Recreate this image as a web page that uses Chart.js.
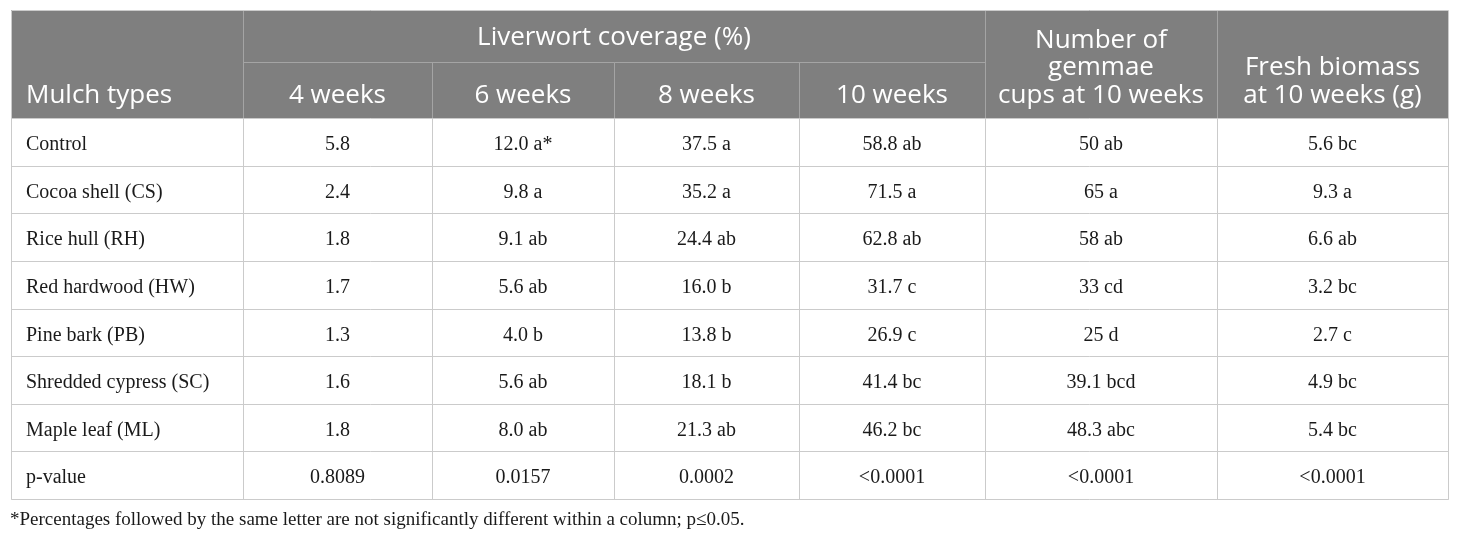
<!DOCTYPE html>
<html>
<head>
<meta charset="utf-8">
<script src="https://cdn.jsdelivr.net/npm/chart.js@4"></script>
<style>
html,body{margin:0;padding:0;background:#fff;}
#wrap{width:1460px;height:540px;position:relative;}
</style>
</head>
<body>
<div id="wrap"><canvas id="c" width="1460" height="540"></canvas></div>
<script>
// ---- data ----
const mulchTypes = ['Control','Cocoa shell (CS)','Rice hull (RH)','Red hardwood (HW)','Pine bark (PB)','Shredded cypress (SC)','Maple leaf (ML)'];
const cov4 = [5.8, 2.4, 1.8, 1.7, 1.3, 1.6, 1.8];
const cov6 = [12.0, 9.8, 9.1, 5.6, 4.0, 5.6, 8.0];
const cov6Letters = ['a*','a','ab','ab','b','ab','ab'];
const cov8 = [37.5, 35.2, 24.4, 16.0, 13.8, 18.1, 21.3];
const cov8Letters = ['a','a','ab','b','b','b','ab'];
const cov10 = [58.8, 71.5, 62.8, 31.7, 26.9, 41.4, 46.2];
const cov10Letters = ['ab','a','ab','c','c','bc','bc'];
const gemmaeCups = ['50','65','58','33','25','39.1','48.3'];
const gemmaeLetters = ['ab','a','ab','cd','d','bcd','abc'];
const biomass = [5.6, 9.3, 6.6, 3.2, 2.7, 4.9, 5.4];
const biomassLetters = ['bc','a','ab','bc','c','bc','bc'];
const pLabel = 'p-value';
const pValues = ['0.8089','0.0157','0.0002','<0.0001','<0.0001','<0.0001'];
const groupHeader = 'Liverwort coverage (%)';
const colHeaders = ['Mulch types','4 weeks','6 weeks','8 weeks','10 weeks'];
const cupsHeader = ['Number of','gemmae','cups at 10 weeks'];
const biomassHeader = ['Fresh biomass','at 10 weeks (g)'];
const footnote = '*Percentages followed by the same letter are not significantly different within a column; p\u22640.05.';

// ---- layout (not data) ----
const colWidths = [232, 189, 182, 185, 186, 232, 231];
const headH1 = 52, headH2 = 56, rowH = 47.6;

// build table rows
const rows = mulchTypes.map((m, i) => [
  m,
  cov4[i].toFixed(1),
  cov6[i].toFixed(1) + ' ' + cov6Letters[i],
  cov8[i].toFixed(1) + ' ' + cov8Letters[i],
  cov10[i].toFixed(1) + ' ' + cov10Letters[i],
  gemmaeCups[i] + ' ' + gemmaeLetters[i],
  biomass[i].toFixed(1) + ' ' + biomassLetters[i]
]);
rows.push([pLabel, ...pValues]);

const edges = [0];
colWidths.forEach(w => edges.push(edges[edges.length - 1] + w));
const tableW = edges[edges.length - 1];
const tableH = headH1 + headH2 + rowH * rows.length;

const tablePlugin = {
  id: 'tablePlugin',
  afterDraw(chart) {
    const ctx = chart.ctx;
    const xs = chart.scales.x, ys = chart.scales.y;
    const X = v => xs.getPixelForValue(v);
    const Y = v => ys.getPixelForValue(v);
    const cx = i => (X(edges[i]) + X(edges[i + 1])) / 2;
    ctx.save();
    // header background
    ctx.fillStyle = '#7f7f7f';
    ctx.fillRect(X(0), Y(0), X(tableW) - X(0), Y(headH1 + headH2) - Y(0));
    // header lines
    ctx.strokeStyle = '#a4a4a4';
    ctx.lineWidth = 1;
    const line = (x1, y1, x2, y2) => {
      ctx.beginPath();
      ctx.moveTo(Math.round(x1) + 0.5, Math.round(y1) + 0.5);
      ctx.lineTo(Math.round(x2) + 0.5, Math.round(y2) + 0.5);
      ctx.stroke();
    };
    line(X(edges[1]), Y(headH1), X(edges[5]), Y(headH1));
    [1, 5, 6].forEach(i => line(X(edges[i]), Y(0), X(edges[i]), Y(headH1 + headH2)));
    [2, 3, 4].forEach(i => line(X(edges[i]), Y(headH1), X(edges[i]), Y(headH1 + headH2)));
    // body lines
    ctx.strokeStyle = '#cbcbcb';
    const bodyTop = headH1 + headH2;
    for (let r = 0; r <= rows.length; r++) {
      line(X(0), Y(bodyTop + r * rowH), X(tableW), Y(bodyTop + r * rowH));
    }
    edges.forEach(e => line(X(e), Y(bodyTop), X(e), Y(tableH)));
    // outer border
    line(X(0), Y(0), X(tableW), Y(0));
    line(X(0), Y(0), X(0), Y(tableH));
    line(X(tableW), Y(0), X(tableW), Y(tableH));

    // header text
    ctx.fillStyle = '#ffffff';
    ctx.font = '26px "Open Sans"';
    ctx.textBaseline = 'middle';
    ctx.textAlign = 'center';
    ctx.fillText(groupHeader, (X(edges[1]) + X(edges[5])) / 2, Y(headH1 / 2) + 2);
    const h2y = Y(headH1 + headH2 / 2) + 5.5;
    ctx.textAlign = 'left';
    ctx.fillText(colHeaders[0], X(edges[0]) + 15, h2y);
    ctx.textAlign = 'center';
    for (let i = 1; i < 5; i++) ctx.fillText(colHeaders[i], cx(i), h2y);
    const lh = 27.5;
    cupsHeader.forEach((t, k) => ctx.fillText(t, cx(5), h2y - (cupsHeader.length - 1 - k) * lh));
    biomassHeader.forEach((t, k) => ctx.fillText(t, cx(6), h2y - (biomassHeader.length - 1 - k) * lh));

    // body text
    ctx.fillStyle = '#1a1a1a';
    ctx.font = '20px "Liberation Serif"';
    rows.forEach((row, r) => {
      const yy = Y(bodyTop + r * rowH + rowH / 2) + 3;
      row.forEach((t, c) => {
        if (c === 0) {
          ctx.textAlign = 'left';
          ctx.fillText(t, X(edges[0]) + 15, yy);
        } else {
          ctx.textAlign = 'center';
          ctx.fillText(t, cx(c), yy);
        }
      });
    });
    // footnote
    ctx.font = '19px "Liberation Serif"';
    ctx.textAlign = 'left';
    ctx.fillText(footnote, X(0) - 1, Y(tableH + 21));
    ctx.restore();
  }
};

new Chart(document.getElementById('c'), {
  type: 'scatter',
  data: { datasets: [] },
  options: {
    responsive: false,
    animation: false,
    devicePixelRatio: 1,
    layout: { padding: { left: 11, top: 10, right: 12, bottom: 41 } },
    plugins: { legend: { display: false }, tooltip: { enabled: false } },
    scales: {
      x: { type: 'linear', min: 0, max: tableW, display: false },
      y: { type: 'linear', min: 0, max: tableH, reverse: true, display: false }
    }
  },
  plugins: [tablePlugin]
});
</script>
</body>
</html>
